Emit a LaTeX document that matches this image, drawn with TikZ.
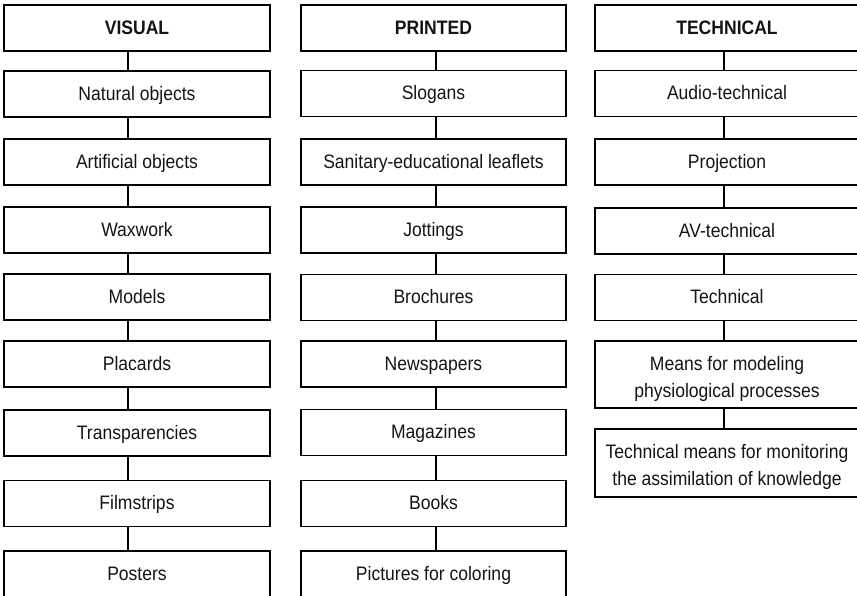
\documentclass[tikz,border=0pt]{standalone}
\usepackage{fontspec}
\setmainfont{Liberation Sans}[FakeStretch=0.9]
\begin{document}
\begin{tikzpicture}[x=1pt,y=-1pt,
  box/.style={draw, line width=1.6pt, rectangle, inner sep=0pt, align=center,
    minimum height=46pt, font=\fontsize{19.5}{27}\selectfont, text=black!92,
    text height=15pt, text depth=3pt},
  colA/.style={box, minimum width=266pt},
  colB/.style={box, minimum width=265pt},
  colC/.style={box, minimum width=264pt},
  twoline/.style={text height=46pt, text depth=1pt},
  link/.style={line width=1.3pt}]
\useasboundingbox (0,0) rectangle (857,595);
\clip (0,0) rectangle (857,595);
\coordinate (c1) at (128,0);
\coordinate (c2) at (436,0);
\coordinate (c3) at (724,0);
% column 1
\node[colA] (v0) at (137,28) {\textbf{VISUAL}};
\node[colA] (v1) at (137,94) {Natural objects};
\node[colA] (v2) at (137,162) {Artificial objects};
\node[colA] (v3) at (137,230) {Waxwork};
\node[colA] (v4) at (137,297) {Models};
\node[colA] (v5) at (137,364) {Placards};
\node[colA] (v6) at (137,433) {Transparencies};
\node[colA] (v7) at (137,503.5) {Filmstrips};
\node[colA] (v8) at (137,574) {Posters};
% column 2
\node[colB] (p0) at (433.5,28) {\textbf{PRINTED}};
\node[colB] (p1) at (433.5,93.5) {Slogans};
\node[colB] (p2) at (433.5,162) {Sanitary-educational leaflets};
\node[colB] (p3) at (433.5,230) {Jottings};
\node[colB] (p4) at (433.5,297.5) {Brochures};
\node[colB] (p5) at (433.5,364) {Newspapers};
\node[colB] (p6) at (433.5,432.5) {Magazines};
\node[colB] (p7) at (433.5,503.5) {Books};
\node[colB] (p8) at (433.5,574) {Pictures for coloring};
% column 3
\node[colC] (t0) at (727,28) {\textbf{TECHNICAL}};
\node[colC] (t1) at (727,93.5) {Audio-technical};
\node[colC] (t2) at (727,162) {Projection};
\node[colC] (t3) at (727,231) {AV-technical};
\node[colC] (t4) at (727,297.5) {Technical};
\node[colC, twoline, minimum height=67pt] (t5) at (727,374.5) {Means for modeling\\physiological processes};
\node[colC, twoline, minimum height=68pt] (t6) at (727,463) {Technical means for monitoring\\the assimilation of knowledge};
% connectors
\foreach \a/\b in {v0/v1,v1/v2,v2/v3,v3/v4,v4/v5,v5/v6,v6/v7,v7/v8}
  \draw[link] (\a.south -| c1) -- (\b.north -| c1);
\foreach \a/\b in {p0/p1,p1/p2,p2/p3,p3/p4,p4/p5,p5/p6,p6/p7,p7/p8}
  \draw[link] (\a.south -| c2) -- (\b.north -| c2);
\foreach \a/\b in {t0/t1,t1/t2,t2/t3,t3/t4,t4/t5,t5/t6}
  \draw[link] (\a.south -| c3) -- (\b.north -| c3);
\end{tikzpicture}
\end{document}
